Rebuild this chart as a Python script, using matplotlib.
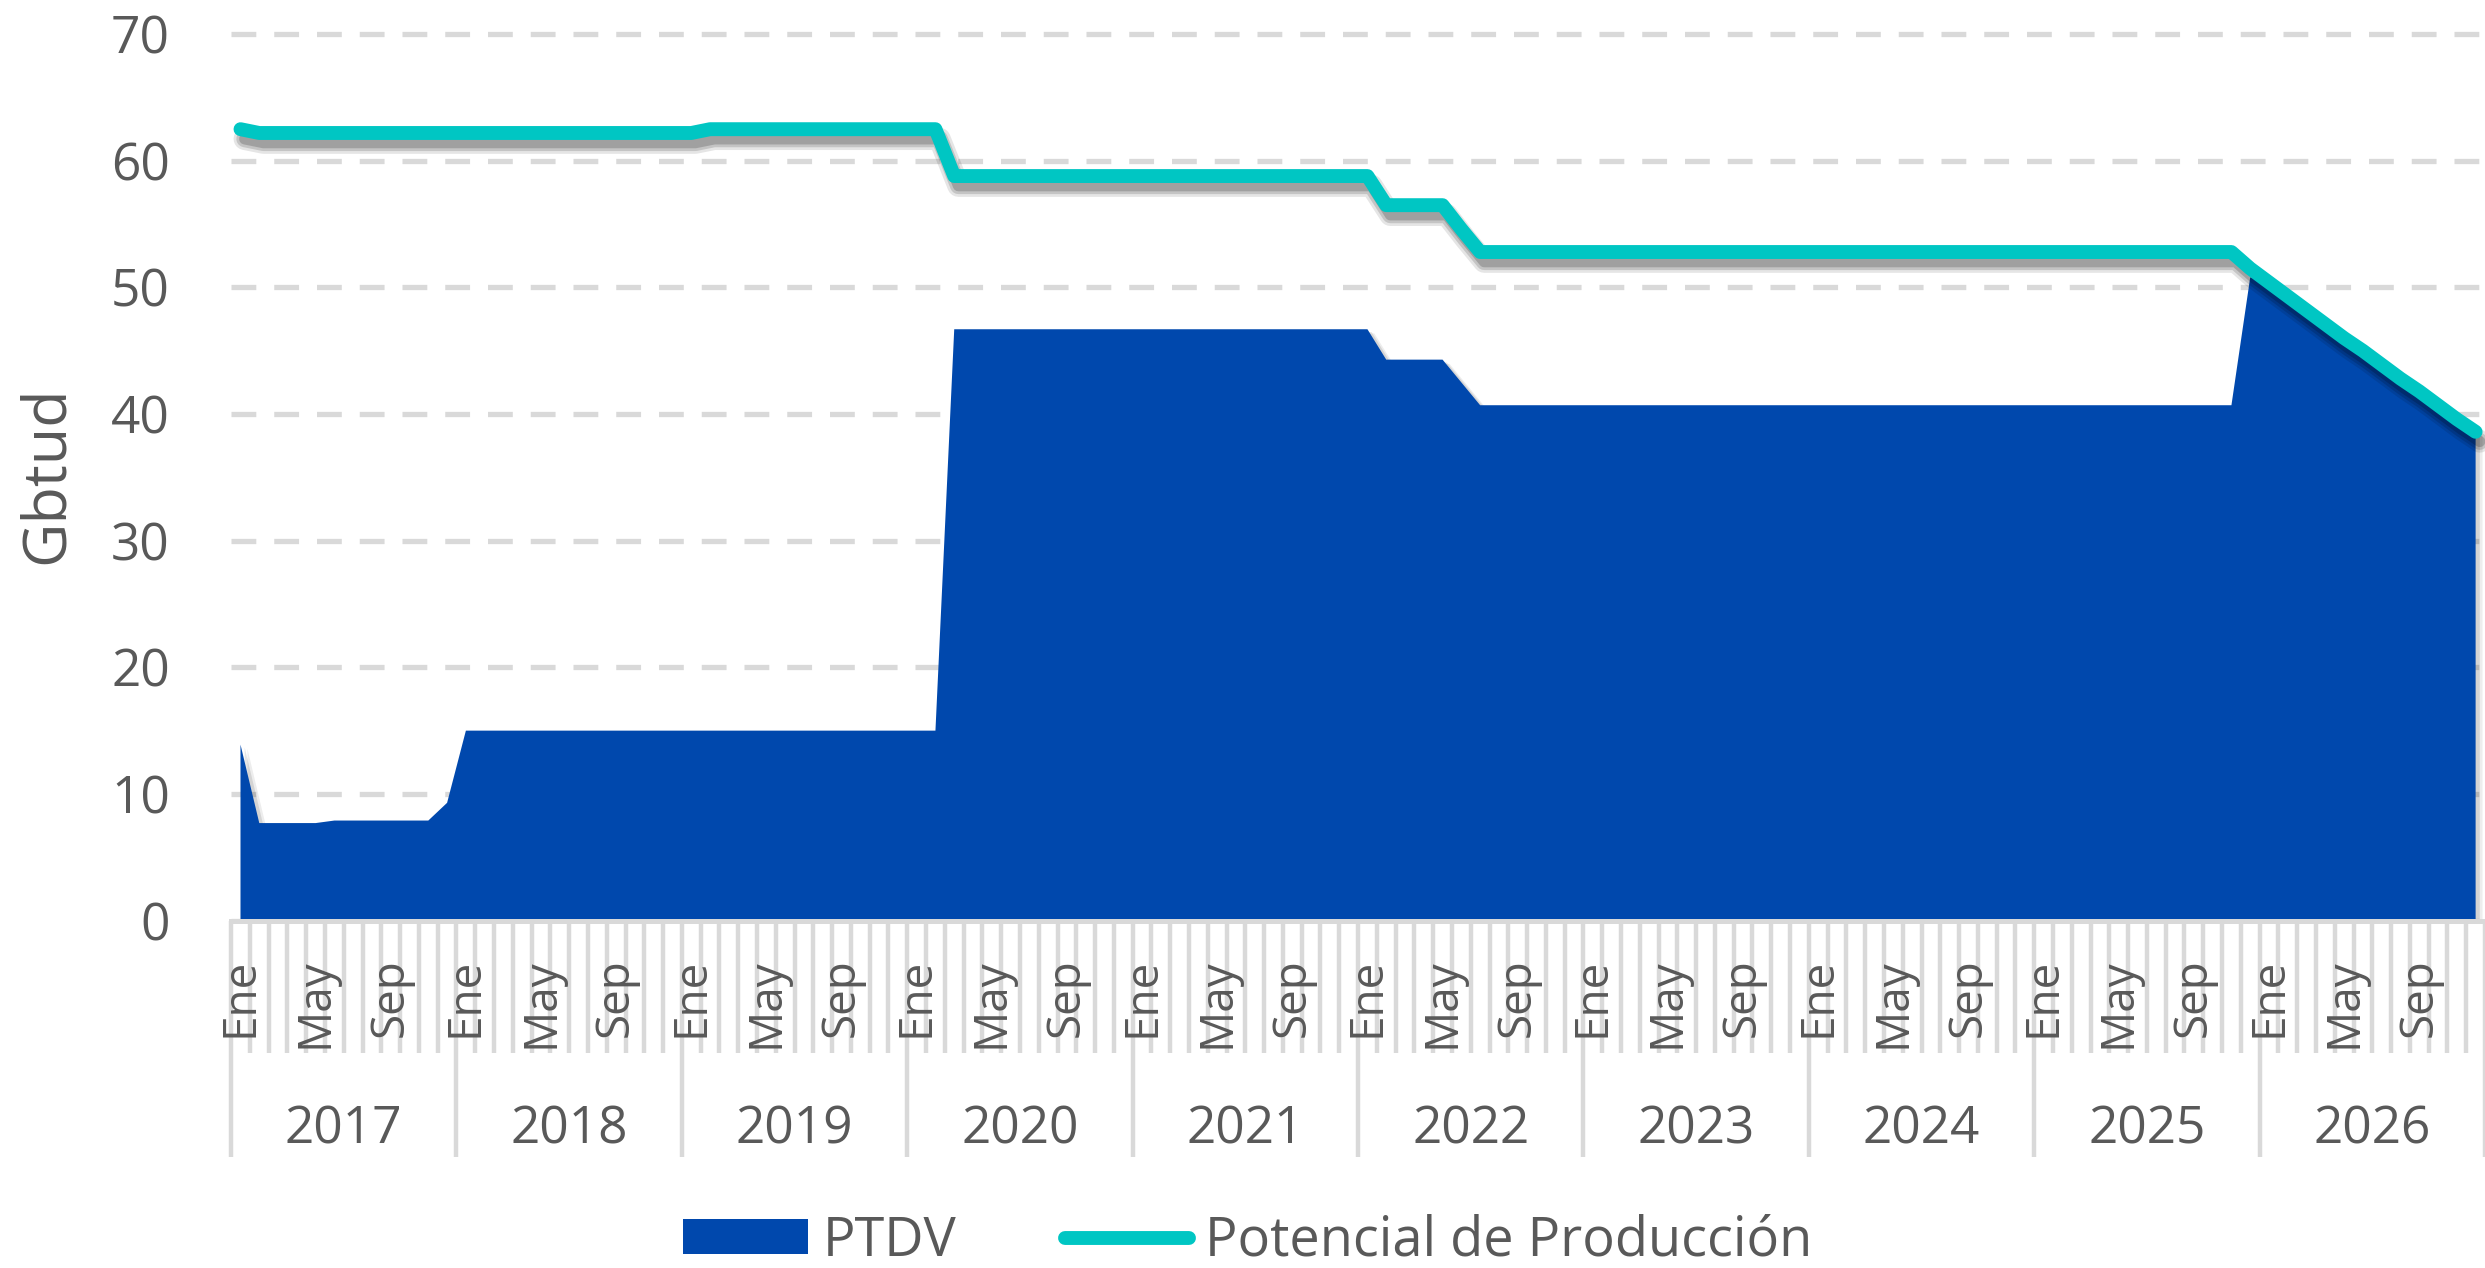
import matplotlib
matplotlib.use("Agg")
import matplotlib.pyplot as plt
import matplotlib.patheffects as pe
import matplotlib.transforms as mtransforms
from matplotlib.patches import Patch
from matplotlib.lines import Line2D
import numpy as np

plt.rcParams['font.family'] = ['Open Sans', 'DejaVu Sans']

# monthly data, Ene 2017 - Dic 2026 (Gbtud)
years = [2017, 2018, 2019, 2020, 2021, 2022, 2023, 2024, 2025, 2026]
month_names = ["Ene", "Feb", "Mar", "Abr", "May", "Jun",
               "Jul", "Ago", "Sep", "Oct", "Nov", "Dic"]

ptdv = [
    13.9, 7.7, 7.7, 7.7, 7.7, 7.9, 7.9, 7.9, 7.9, 7.9, 7.9, 9.3,          # 2017
    15.0, 15.0, 15.0, 15.0, 15.0, 15.0, 15.0, 15.0, 15.0, 15.0, 15.0, 15.0,  # 2018
    15.0, 15.0, 15.0, 15.0, 15.0, 15.0, 15.0, 15.0, 15.0, 15.0, 15.0, 15.0,  # 2019
    15.0, 15.0, 46.7, 46.7, 46.7, 46.7, 46.7, 46.7, 46.7, 46.7, 46.7, 46.7,  # 2020
    46.7, 46.7, 46.7, 46.7, 46.7, 46.7, 46.7, 46.7, 46.7, 46.7, 46.7, 46.7,  # 2021
    46.7, 44.3, 44.3, 44.3, 44.3, 42.5, 40.7, 40.7, 40.7, 40.7, 40.7, 40.7,  # 2022
    40.7, 40.7, 40.7, 40.7, 40.7, 40.7, 40.7, 40.7, 40.7, 40.7, 40.7, 40.7,  # 2023
    40.7, 40.7, 40.7, 40.7, 40.7, 40.7, 40.7, 40.7, 40.7, 40.7, 40.7, 40.7,  # 2024
    40.7, 40.7, 40.7, 40.7, 40.7, 40.7, 40.7, 40.7, 40.7, 40.7, 40.7, 50.8,  # 2025
    50.4, 49.3, 48.2, 47.1, 46.0, 45.0, 43.9, 42.8, 41.8, 40.7, 39.6, 38.6,  # 2026
]

potencial = [
    62.5, 62.2, 62.2, 62.2, 62.2, 62.2, 62.2, 62.2, 62.2, 62.2, 62.2, 62.2,  # 2017
    62.2, 62.2, 62.2, 62.2, 62.2, 62.2, 62.2, 62.2, 62.2, 62.2, 62.2, 62.2,  # 2018
    62.2, 62.5, 62.5, 62.5, 62.5, 62.5, 62.5, 62.5, 62.5, 62.5, 62.5, 62.5,  # 2019
    62.5, 62.5, 58.8, 58.8, 58.8, 58.8, 58.8, 58.8, 58.8, 58.8, 58.8, 58.8,  # 2020
    58.8, 58.8, 58.8, 58.8, 58.8, 58.8, 58.8, 58.8, 58.8, 58.8, 58.8, 58.8,  # 2021
    58.8, 56.5, 56.5, 56.5, 56.5, 54.6, 52.8, 52.8, 52.8, 52.8, 52.8, 52.8,  # 2022
    52.8, 52.8, 52.8, 52.8, 52.8, 52.8, 52.8, 52.8, 52.8, 52.8, 52.8, 52.8,  # 2023
    52.8, 52.8, 52.8, 52.8, 52.8, 52.8, 52.8, 52.8, 52.8, 52.8, 52.8, 52.8,  # 2024
    52.8, 52.8, 52.8, 52.8, 52.8, 52.8, 52.8, 52.8, 52.8, 52.8, 52.8, 51.5,  # 2025
    50.4, 49.3, 48.2, 47.1, 46.0, 45.0, 43.9, 42.8, 41.8, 40.7, 39.6, 38.6,  # 2026
]

BLUE = '#0048AD'
CYAN = '#00C6C3'
TEXT = '#595959'
GRID = '#D9D9D9'

fig = plt.figure(figsize=(24.85, 12.68), dpi=100)
ax = fig.add_axes([0.093, 0.274, 0.907, 0.704])

x = np.arange(len(ptdv))

# soft shadows, roughly like the excel ones
area_fx = [pe.SimplePatchShadow(offset=(5, -3), shadow_rgbFace='black', alpha=0.07),
           pe.SimplePatchShadow(offset=(3, -2), shadow_rgbFace='black', alpha=0.10),
           pe.Normal()]
line_fx = [pe.SimpleLineShadow(offset=(3, -7), shadow_color='black', alpha=0.10, linewidth=16),
           pe.SimpleLineShadow(offset=(3, -7), shadow_color='black', alpha=0.14, linewidth=12),
           pe.SimpleLineShadow(offset=(3, -7), shadow_color='black', alpha=0.18, linewidth=8),
           pe.Normal()]

ax.fill_between(x, 0, ptdv, color=BLUE, lw=0, zorder=2, path_effects=area_fx)
ax.plot(x, potencial, color=CYAN, lw=10, solid_capstyle='round',
        solid_joinstyle='round', zorder=3, path_effects=line_fx)

ax.set_xlim(-0.5, 119.2)
ax.set_ylim(0, 70.5)
ax.set_yticks(range(0, 80, 10))

ax.set_axisbelow(True)
ax.yaxis.grid(True, color=GRID, lw=3.8, linestyle=(0, (4.7, 3.4)))
for s in ['top', 'right', 'left']:
    ax.spines[s].set_visible(False)
ax.spines['bottom'].set_color(GRID)
ax.spines['bottom'].set_linewidth(3.6)

ax.tick_params(axis='y', length=0, pad=44, labelsize=37, labelcolor=TEXT)

# category axis: year lines (major) and month lines (minor)
ax.set_xticks(np.arange(len(years) + 1) * 12 - 0.5)
ax.set_xticks(np.arange(len(ptdv) + 1) - 0.5, minor=True)
ax.tick_params(axis='x', which='major', length=170, width=3.2, color=GRID,
               labelbottom=False)
ax.tick_params(axis='x', which='minor', length=95, width=3.2, color=GRID)

trans = mtransforms.blended_transform_factory(ax.transData, ax.transAxes)
for i in range(0, len(ptdv), 4):
    ax.text(i, -0.042, month_names[i % 12], transform=trans, rotation=90,
            ha='center', va='top', fontsize=33, color=TEXT)
for k, yr in enumerate(years):
    ax.text(12 * k + 5.5, -0.2345, str(yr), transform=trans,
            ha='center', va='center', fontsize=37, color=TEXT)

ax.set_ylabel('Gbtud', fontsize=44, color=TEXT)
ax.yaxis.set_label_coords(-0.0816, 0.5)
ax.yaxis.label.set_va('center')

handles = [Patch(facecolor=BLUE, edgecolor='none', label='PTDV'),
           Line2D([], [], color=CYAN, lw=10, solid_capstyle='round',
                  label='Potencial de Producción')]
fig.legend(handles=handles, loc='center', bbox_to_anchor=(0.502, 0.021),
           ncol=2, frameon=False, fontsize=39, handlelength=2.3,
           handleheight=0.62, handletextpad=0.28, columnspacing=2.0,
           labelcolor=TEXT, borderpad=0, borderaxespad=0)

plt.savefig('out.png', dpi=100)
plt.close()
